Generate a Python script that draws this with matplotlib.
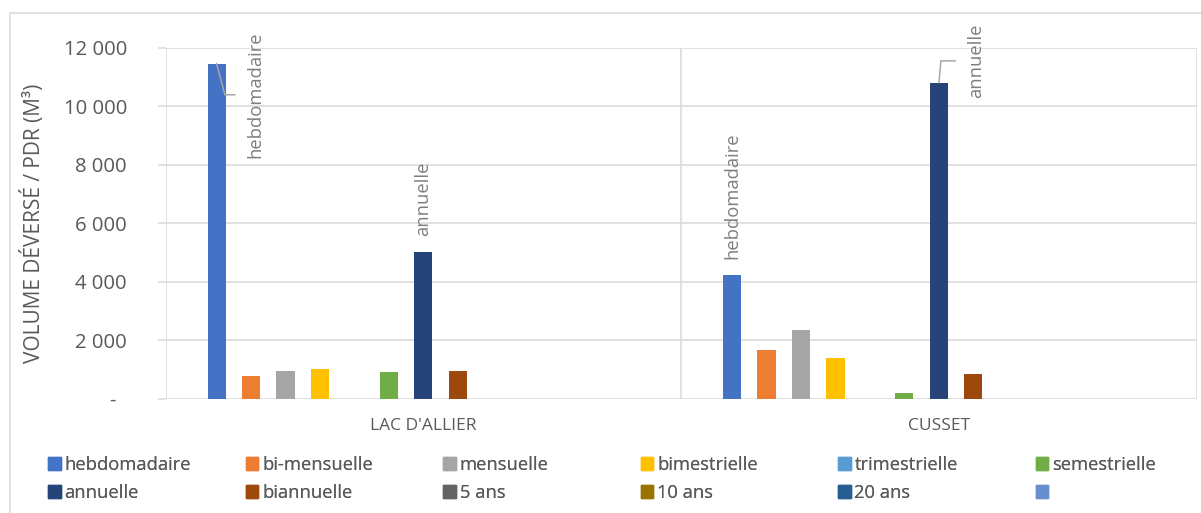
import numpy as np
import matplotlib.pyplot as plt
from matplotlib.patches import Patch, Rectangle
from matplotlib.ticker import FuncFormatter

# data
sites = ["LAC D'ALLIER", "CUSSET"]
series = ["hebdomadaire", "bi-mensuelle", "mensuelle", "bimestrielle", "trimestrielle",
          "semestrielle", "annuelle", "biannuelle", "5 ans", "10 ans", "20 ans", ""]
colors = ["#4472C4", "#ED7D31", "#A5A5A5", "#FFC000", "#5B9BD5", "#70AD47",
          "#264478", "#9E480E", "#636363", "#997300", "#255E91", "#698ED0"]
lac = [11460, 770, 970, 1010, 0, 935, 5030, 970, 0, 0, 0, 0]
cusset = [4220, 1665, 2370, 1390, 0, 200, 10800, 840, 0, 0, 0, 0]

plt.rcParams['font.family'] = ['Open Sans', 'DejaVu Sans']
grid_c = "#D9D9D9"
txt_c = "#595959"
lab_c = "#7F7F7F"

fig = plt.figure(figsize=(12.01, 5.13), dpi=100)
ax = fig.add_axes([165.7 / 1201, 1 - 399 / 513, 1031 / 1201, 351.3 / 513])

x = np.arange(len(sites))
n_slots = 13
pitch = 0.0669
width = 0.035
bars = []
for i, name in enumerate(series):
    vals = [lac[i], cusset[i]]
    b = ax.bar(x + (i - (n_slots - 1) / 2) * pitch, vals, width, color=colors[i], label=name, zorder=3)
    bars.append(b)

ax.set_xlim(-0.5, 1.5)
ax.set_ylim(0, 12000)
ax.set_yticks(np.arange(0, 12001, 2000))
ax.yaxis.set_major_formatter(FuncFormatter(lambda v, p: "-  " if v == 0 else f"{int(v):,}".replace(",", " ")))
ax.set_xticks(x)
ax.set_xticklabels(sites)
ax.tick_params(axis='x', length=0, pad=14, labelsize=12.5, labelcolor=txt_c)
ax.tick_params(axis='y', length=5.8, width=1.1, color=grid_c, pad=22, labelsize=14.6, labelcolor=txt_c)
for s in ax.spines.values():
    s.set_visible(False)
ax.grid(axis='y', color=grid_c, lw=1.1, zorder=0)
for xb in [-0.5, 0.5, 1.5]:
    ax.axvline(xb, color=grid_c, lw=1.1, zorder=1)

ax.set_ylabel("VOLUME DÉVERSÉ / PDR (M³)", fontsize=15, color=txt_c)
ax.yaxis.set_label_coords(-0.1175, 0.5)

# data labels
def plain_label(b, idx, text):
    r = b[idx]
    ax.annotate(text, (r.get_x() + r.get_width() / 2, r.get_height()), xytext=(0, 11.5),
                textcoords='offset points', rotation=90, ha='center', va='bottom',
                fontsize=13.2, color=lab_c, annotation_clip=False)

def leader_label(b, idx, text, dx, dy, ang):
    r = b[idx]
    ax.annotate(text, (r.get_x() + r.get_width() / 2, r.get_height()), xytext=(dx, dy),
                textcoords='offset points', rotation=90, ha='left', va='center',
                fontsize=13.2, color=lab_c, annotation_clip=False,
                arrowprops=dict(arrowstyle='-', color="#A6A6A6", lw=1.1, patchA=None,
                                shrinkA=8.5, shrinkB=0, relpos=(0, 0.5),
                                connectionstyle=f"angle,angleA=0,angleB={ang},rad=0"))

leader_label(bars[0], 0, "hebdomadaire", 21.8, -22.5, -75)
plain_label(bars[6], 0, "annuelle")
plain_label(bars[0], 1, "hebdomadaire")
leader_label(bars[6], 1, "annuelle", 20.4, 15.8, 85)

# legend laid out as a uniform grid like the original
handles = [Patch(color=c) for c in colors]
ncol = 6
for k in range(ncol):
    idx = [k, k + ncol]
    lg = fig.legend([handles[j] for j in idx], [series[j] for j in idx],
                    loc='upper left', bbox_to_anchor=((48 + k * 197.5) / 1201, 1 - 456 / 513),
                    frameon=False, borderpad=0, borderaxespad=0, handlelength=0.7, handleheight=0.7,
                    handletextpad=0.2, labelspacing=0.55, fontsize=13.2, labelcolor=txt_c)
    fig.add_artist(lg)

# outer chart border
fig.patches.append(Rectangle((10 / 1201, -0.05), 1.1, 1 - 13 / 513 + 0.05, transform=fig.transFigure,
                             fill=False, ec=grid_c, lw=1.1))

fig.savefig("out.png", dpi=100)
